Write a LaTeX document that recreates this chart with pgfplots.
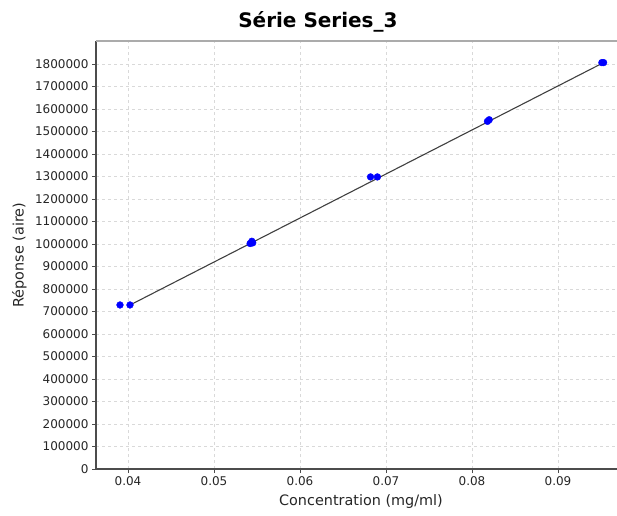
\documentclass[border=0pt]{standalone}
\usepackage{fontspec}
\setmainfont{DejaVu Sans}
\usepackage{pgfplots}
\pgfplotsset{compat=1.18}
\begin{document}
\begin{tikzpicture}[x=1pt,y=1pt]
\useasboundingbox (0,0) rectangle (617,515);
\begin{axis}[
  at={(96pt,46pt)}, anchor=south west,
  scale only axis, width=521pt, height=428pt,
  xmin=0.03628, xmax=0.09686,
  ymin=0, ymax=1902000,
  axis x line=bottom, axis y line=left,
  axis line style={-, black!70, line width=1.2pt},
  xtick={0.04,0.05,0.06,0.07,0.08,0.09},
  ytick={0,100000,...,1800000},
  scaled x ticks=false, scaled y ticks=false,
  xticklabel style={/pgf/number format/.cd, fixed, fixed zerofill, precision=2, assume math mode=true},
  yticklabel style={/pgf/number format/.cd, fixed, 1000 sep={}, assume math mode=true},
  ticklabel style={font=\fontsize{12}{14}\selectfont, text=black!85},
  tick align=outside, major tick length=4pt,
  tick style={black!70, line width=0.8pt},
  grid=major,
  major grid style={dash pattern=on 3pt off 3pt, color=black!15, line width=0.8pt},
  xlabel={Concentration (mg/ml)},
  ylabel={Réponse (aire)},
  xlabel style={at={(axis description cs:0.5086,-0.0770)}, anchor=center, font=\fontsize{14.4}{16}\selectfont, text=black!85},
  ylabel style={at={(axis description cs:-0.1470,0.5)}, anchor=center, rotate=0, font=\fontsize{14.4}{16}\selectfont, text=black!85},
  title={\textbf{Série Series\_3}},
  title style={at={(axis description cs:0.426,1.030)}, anchor=center, font=\fontsize{20}{22}\selectfont},
  clip=false,
]
\addplot[black!75, line width=1.1pt] coordinates {(0.0402,728000) (0.0953,1806000)};
\addplot[only marks, mark=*, mark size=3.4pt, color=blue, mark options={draw=blue, fill=blue}] coordinates {
  (0.03907,729000) (0.04023,729000)
  (0.0542,1002000) (0.0544,1012000) (0.0545,1005000)
  (0.0682,1298000) (0.0690,1298000)
  (0.0818,1545000) (0.0820,1552000)
  (0.0951,1806000) (0.0953,1806000)
};
\draw[black!33, line width=2pt] (rel axis cs:0,1) -- (rel axis cs:1,1);
\end{axis}
\end{tikzpicture}
\end{document}
